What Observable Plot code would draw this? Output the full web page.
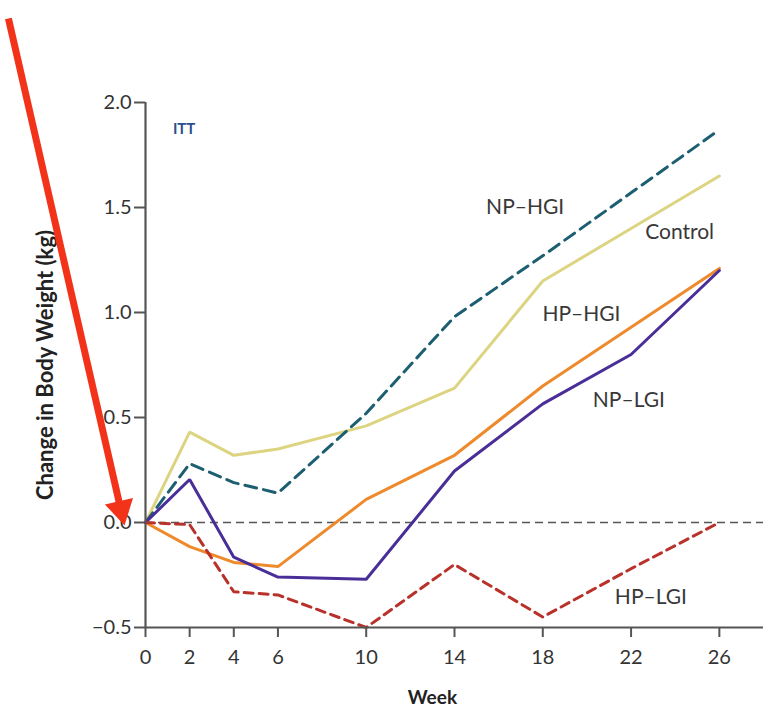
<!DOCTYPE html>
<html>
<head>
<meta charset="utf-8">
<script src="https://cdn.jsdelivr.net/npm/d3@7"></script>
<script src="https://cdn.jsdelivr.net/npm/@observablehq/plot@0.6"></script>
<style>
  html, body { margin: 0; padding: 0; background: #fff; }
  #chart svg { display: block; }
</style>
</head>
<body>
<div id="chart"></div>
<script>
// ---- data ----
const weeks = [0, 2, 4, 6, 10, 14, 18, 22, 26];
const control = [0, 0.43, 0.32, 0.35, 0.46, 0.64, 1.15, 1.40, 1.65];
const npHgi   = [0, 0.28, 0.19, 0.14, 0.52, 0.98, 1.27, 1.57, 1.87];
const hpHgi   = [0, -0.115, -0.19, -0.21, 0.11, 0.32, 0.65, 0.93, 1.21];
const npLgi   = [0, 0.205, -0.165, -0.26, -0.27, 0.245, 0.565, 0.80, 1.20];
const hpLgi   = [0, -0.01, -0.33, -0.345, -0.50, -0.20, -0.45, -0.22, 0.0];

const seriesNames = ["Control", "NP–HGI", "HP–HGI", "NP–LGI", "HP–LGI"];
const seriesValues = [control, npHgi, hpHgi, npLgi, hpLgi];
const seriesColors = ["#ddd482", "#1d5f70", "#ee8a2c", "#4a2e98", "#b8322b"];
const seriesDash = [null, "12,7", null, null, "9,6"];

const xTicks = [0, 2, 4, 6, 10, 14, 18, 22, 26];
const yTicks = [-0.5, 0, 0.5, 1.0, 1.5, 2.0];

// label anchors (week, kg)
const labelNames = ["NP–HGI", "Control", "HP–HGI", "NP–LGI", "HP–LGI"];
const labelX = [17.2, 24.2, 19.75, 21.9, 22.9];
const labelY = [1.50, 1.38, 0.99, 0.58, -0.355];

// annotation arrow (week, kg): shaft start/end and head centre
const arrowShaft = [{x1: -6.21, y1: 2.40, x2: -1.155, y2: 0.079}];
const arrowHead = [{x: -1.119, y: 0.063}];

const table = [];
seriesNames.forEach((s, i) => weeks.forEach((w, j) => table.push({series: s, week: w, value: seriesValues[i][j]})));

const labels = labelNames.map((t, i) => ({text: t, x: labelX[i], y: labelY[i]}));

const lineMarks = seriesNames.map((s, i) =>
  Plot.line(table.filter(d => d.series === s), {
    x: "week", y: "value",
    stroke: seriesColors[i], strokeWidth: 3,
    strokeDasharray: seriesDash[i] || undefined,
    strokeLinejoin: "miter"
  })
);

const arrowColor = "#f3321a";

const chart = Plot.plot({
  width: 766,
  height: 712,
  marginLeft: 145,
  marginRight: 3,
  marginTop: 102,
  marginBottom: 85,
  style: {fontFamily: "Lato, sans-serif", background: "#fff", overflow: "visible"},
  x: {domain: [0, 28], axis: null},
  y: {domain: [-0.5, 2.0], axis: null},
  marks: [
    // zero reference
    Plot.ruleY([0], {x1: 0, x2: 28, stroke: "#555", strokeWidth: 1.6, strokeDasharray: "8,5"}),
    ...lineMarks,
    // axes
    Plot.ruleX([0], {y1: -0.5, y2: 2.0, stroke: "#555", strokeWidth: 2.2}),
    Plot.ruleY([-0.5], {x1: 0, x2: 28, stroke: "#555", strokeWidth: 2.2}),
    Plot.axisY(yTicks, {tickSize: 11, tickPadding: 3, tickFormat: d3.format(".1f"), stroke: "#555", strokeWidth: 2, fill: "#333", fontSize: 20, label: null}),
    Plot.axisX(xTicks, {tickSize: 10, tickPadding: 12, stroke: "#555", strokeWidth: 2, fill: "#333", fontSize: 20, label: null}),
    // axis titles
    Plot.text(["Change in Body Weight (kg)"], {frameAnchor: "left", textAnchor: "middle", lineAnchor: "middle", dx: -100, rotate: -90, fontSize: 22, fontWeight: "bold", fill: "#222"}),
    Plot.text(["Week"], {x: 13, frameAnchor: "bottom", lineAnchor: "middle", dy: 70, fontSize: 19, fontWeight: "bold", fill: "#222"}),
    // series labels
    Plot.text(labels, {x: "x", y: "y", text: "text", fontSize: 21, fill: "#383838"}),
    Plot.text(["ITT"], {x: 1.75, y: 1.875, fontSize: 15, fontWeight: "bold", fill: "#2b4f8e"}),
    // annotation arrow
    Plot.link(arrowShaft, {x1: "x1", y1: "y1", x2: "x2", y2: "y2", stroke: arrowColor, strokeWidth: 7}),
    Plot.dot(arrowHead, {x: "x", y: "y", symbol: "triangle", r: 10.7, rotate: 167.1, fill: arrowColor, stroke: "none"})
  ]
});

document.getElementById("chart").appendChild(chart);
</script>
</body>
</html>
